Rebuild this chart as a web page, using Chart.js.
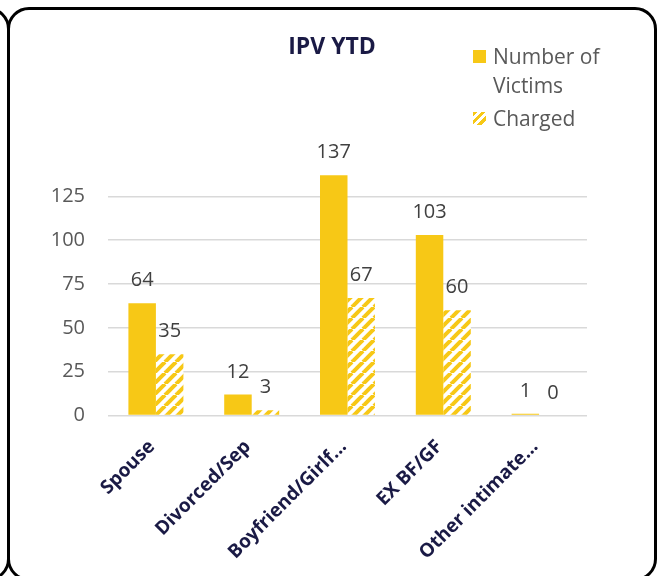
<!DOCTYPE html>
<html>
<head>
<meta charset="utf-8">
<script src="https://cdn.jsdelivr.net/npm/chart.js@4"></script>
<style>
  html, body { margin: 0; padding: 0; background: #fff; }
  body { width: 660px; height: 576px; position: relative; overflow: hidden; font-family: "Open Sans", sans-serif; }
  .frame { position: absolute; top: 7px; height: 574px; border: 3px solid #000; border-radius: 22px; box-sizing: border-box; }
  #main { left: 7px; width: 650px; }
  #prev { left: -640px; width: 650px; }
  #myChart { position: absolute; left: 11px; top: 10px; }
  #title { position: absolute; left: 0; width: 664px; top: 30px; text-align: center; font-weight: bold; font-size: 23px; line-height: 30px; color: #1a1a45; }
  #legend { position: absolute; left: 473px; top: 42px; color: #595959; font-size: 21px; line-height: 29px; }
  .item { display: flex; align-items: flex-start; }
  .item + .item { margin-top: 4px; }
  .box { width: 13px; height: 13px; margin-top: 8px; margin-right: 7px; flex: none; }
  .txt { width: 125px; }
</style>
</head>
<body>
<div class="frame" id="prev"></div>
<div class="frame" id="main"></div>
<canvas id="myChart" width="642" height="566"></canvas>
<div id="title"></div>
<div id="legend"></div>
<script>
const chartTitle = 'IPV YTD';
const categories = ['Spouse', 'Divorced/Sep', 'Boyfriend/Girlf...', 'EX BF/GF', 'Other intimate...'];
const seriesNames = ['Number of Victims', 'Charged'];
const victims = [64, 12, 137, 103, 1];
const charged = [35, 3, 67, 60, 0];
const yTicks = [0, 25, 50, 75, 100, 125];

const gold = '#F7C816';

function hatch(){
    let c = document.createElement('canvas');
    let s = 11;
    c.width = s; c.height = s;
    let g = c.getContext('2d');
    g.fillStyle = '#fff';
    g.fillRect(0, 0, s, s);
    g.strokeStyle = gold;
    g.lineWidth = 4;
    for (let x0 = -s; x0 <= s; x0 += s) {
        g.beginPath();
        g.moveTo(x0, s);
        g.lineTo(x0 + s, 0);
        g.stroke();
    }
    return document.getElementById('myChart').getContext('2d').createPattern(c, 'repeat');
}

// value labels over every bar
const valueLabels = {
    id: 'valueLabels',
    afterDatasetsDraw(chart){
        let ctx = chart.ctx;
        ctx.save();
        ctx.font = '20px "Open Sans"';
        ctx.fillStyle = '#404040';
        ctx.textAlign = 'center';
        ctx.textBaseline = 'alphabetic';
        chart.data.datasets.forEach((ds, i) => {
            chart.getDatasetMeta(i).data.forEach((bar, j) => {
                ctx.fillText(String(ds.data[j]), bar.x, bar.y - 17);
            });
        });
        ctx.restore();
    }
};

var myChart = null;

function chart(){
    let ctx = document.getElementById('myChart').getContext('2d');
    let pattern = hatch();

    document.getElementById('title').textContent = chartTitle;

    myChart = new Chart(ctx, {
        type: 'bar',
        data: {
            labels: categories,
            datasets: [{
                label: seriesNames[0],
                data: victims,
                backgroundColor: gold,
                borderWidth: 0
            }, {
                label: seriesNames[1],
                data: charged,
                backgroundColor: pattern,
                borderWidth: 0
            }]
        },
        options: {
            responsive: false,
            animation: false,
            layout: { padding: { left: 37, right: 66, top: 160, bottom: 0 } },
            plugins: {
                legend: { display: false },
                tooltip: { enabled: false },
                title: { display: false }
            },
            datasets: { bar: { categoryPercentage: 0.574, barPercentage: 1 } },
            scales: {
                x: {
                    grid: { display: false },
                    border: { display: false },
                    ticks: {
                        color: '#1a1a45',
                        font: { family: '"Open Sans"', size: 19, weight: 'bold' },
                        minRotation: 45,
                        maxRotation: 45,
                        autoSkip: false,
                        labelOffset: -4,
                        padding: 12
                    }
                },
                y: {
                    min: 0,
                    max: 140,
                    afterBuildTicks: (axis) => {
                        axis.ticks = yTicks.map(v => ({ value: v }));
                    },
                    afterFit: (axis) => { axis.width = 60; },
                    grid: { color: '#d9d9d9', lineWidth: 1.5, drawTicks: false },
                    border: { display: false },
                    ticks: {
                        color: '#595959',
                        font: { family: '"Open Sans"', size: 20 },
                        padding: 23
                    }
                }
            }
        },
        plugins: [valueLabels]
    });

    // legend built from the datasets
    let legend = document.getElementById('legend');
    myChart.data.datasets.forEach((ds, i) => {
        let item = document.createElement('div');
        item.className = 'item';
        let box = document.createElement('div');
        box.className = 'box';
        box.style.background = i === 0 ? gold
            : 'repeating-linear-gradient(135deg, ' + gold + ' 0 3px, #fff 3px 6px)';
        let txt = document.createElement('div');
        txt.className = 'txt';
        txt.textContent = ds.label;
        item.appendChild(box);
        item.appendChild(txt);
        legend.appendChild(item);
    });
}

chart();
</script>
</body>
</html>
